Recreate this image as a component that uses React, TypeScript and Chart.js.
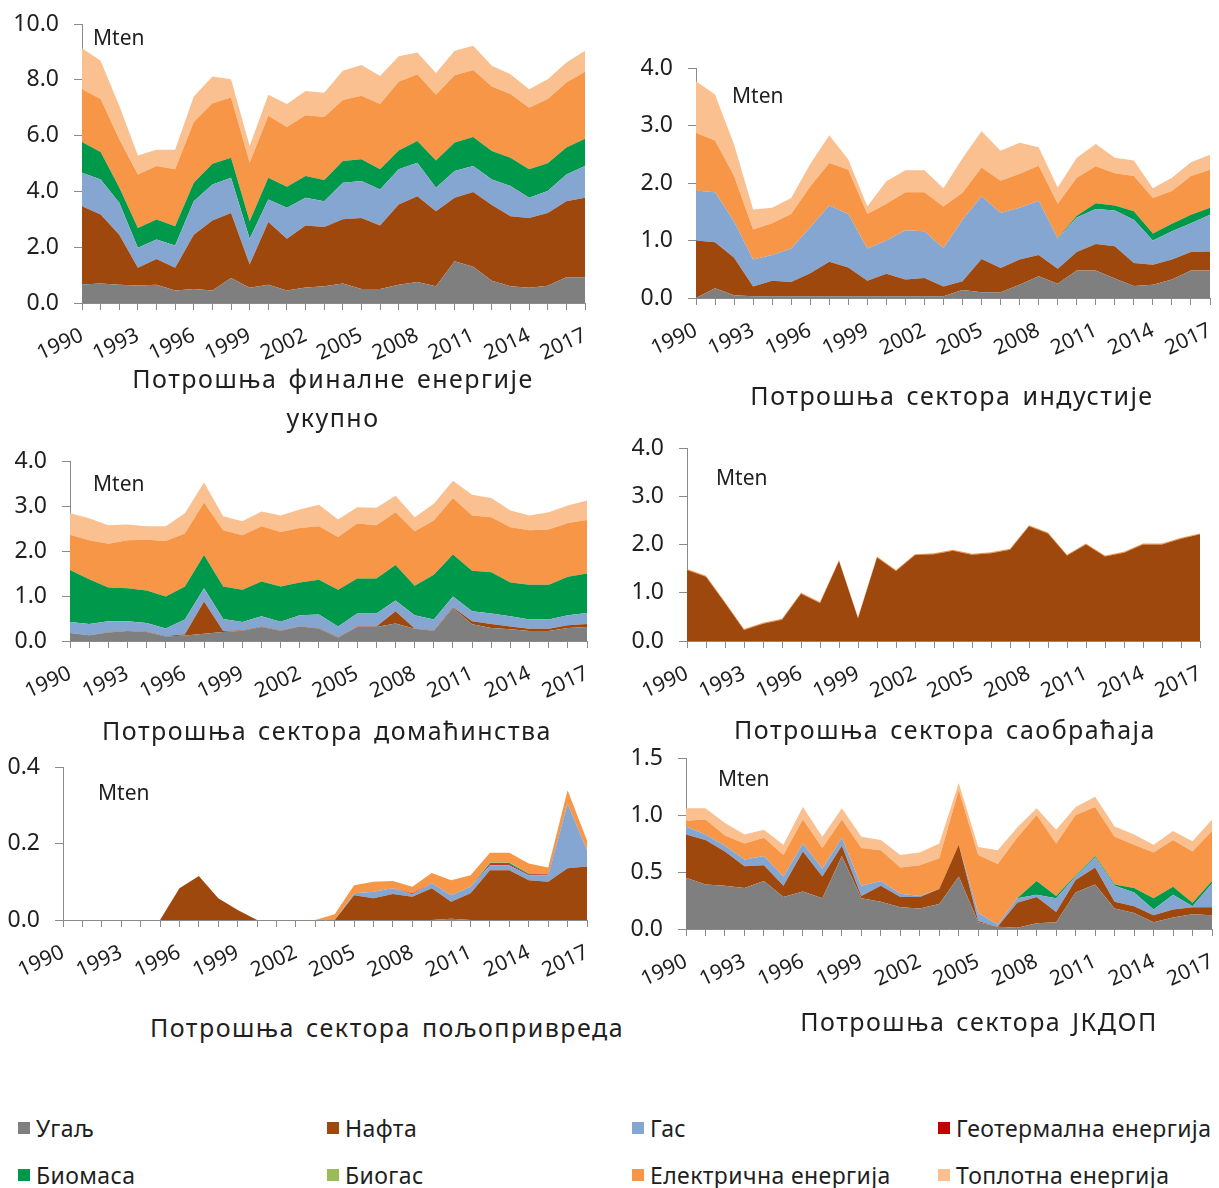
import React, { useEffect, useRef } from 'react';
import { Chart, registerables } from 'chart.js';
Chart.register(...registerables);

// ---------- data ----------
const YEARS = ['1990','1991','1992','1993','1994','1995','1996','1997','1998','1999','2000','2001','2002','2003','2004','2005','2006','2007','2008','2009','2010','2011','2012','2013','2014','2015','2016','2017'];
const YEAR_TICKS = ['1990','1993','1996','1999','2002','2005','2008','2011','2014','2017'];
const SERIES_NAMES = ['Угаљ','Нафта','Гас','Геотермална енергија','Биомаса','Биогас','Електрична енергија','Топлотна енергија'];
const SERIES_COLORS = ['#7F7F7F','#9E480E','#86A6D2','#C00000','#00984A','#9BBB59','#F79646','#FAC090'];

// Потрошња финалне енергије укупно
const totalCoal = [0.66,0.70,0.65,0.63,0.65,0.45,0.50,0.45,0.90,0.55,0.65,0.45,0.56,0.60,0.70,0.50,0.50,0.65,0.75,0.60,1.50,1.30,0.80,0.60,0.55,0.62,0.92,0.92];
const totalOil = [2.81,2.47,1.80,0.63,0.93,0.81,1.95,2.51,2.33,0.83,2.25,1.85,2.22,2.12,2.30,2.55,2.28,2.88,3.08,2.69,2.27,2.68,2.71,2.51,2.50,2.61,2.73,2.85];
const totalGas = [1.20,1.26,1.14,0.72,0.70,0.80,1.20,1.29,1.26,0.92,0.81,1.11,0.99,0.93,1.31,1.32,1.29,1.26,1.20,0.84,0.96,0.93,0.92,1.08,0.72,0.78,0.96,1.14];
const totalBio = [1.10,0.98,0.55,0.71,0.71,0.69,0.66,0.74,0.72,0.63,0.78,0.76,0.78,0.76,0.78,0.78,0.72,0.68,0.78,0.98,1.02,1.04,1.02,1.02,1.02,1.00,0.96,0.98];
const totalElec = [1.89,1.90,1.73,1.92,1.92,2.04,2.18,2.17,2.16,2.10,2.22,2.14,2.18,2.26,2.19,2.28,2.34,2.46,2.39,2.35,2.41,2.40,2.31,2.28,2.21,2.30,2.33,2.40];
const totalHeat = [1.47,1.37,1.20,0.68,0.58,0.70,0.91,0.96,0.65,0.60,0.75,0.82,0.87,0.87,1.04,1.10,1.01,0.91,0.78,0.78,0.88,0.87,0.74,0.71,0.66,0.71,0.72,0.75];

// Потрошња сектора индустије
const indCoal = [0,0.17,0.05,0.03,0.03,0.03,0.03,0.03,0.03,0.03,0.03,0.03,0.03,0.03,0.14,0.10,0.10,0.23,0.38,0.25,0.48,0.48,0.34,0.21,0.23,0.32,0.48,0.48];
const indOil = [1.00,0.80,0.65,0.17,0.27,0.25,0.40,0.60,0.50,0.27,0.39,0.29,0.32,0.17,0.15,0.58,0.42,0.44,0.37,0.26,0.32,0.46,0.56,0.40,0.35,0.35,0.32,0.33];
const indGas = [0.87,0.87,0.63,0.47,0.45,0.58,0.80,0.98,0.93,0.56,0.58,0.86,0.81,0.67,1.07,1.09,0.96,0.90,0.94,0.52,0.60,0.61,0.62,0.75,0.42,0.49,0.50,0.64];
const indBio = [0,0,0,0,0,0,0,0,0,0,0,0,0,0,0,0,0,0,0,0.01,0.03,0.10,0.09,0.15,0.12,0.13,0.15,0.12];
const indElec = [1.00,0.90,0.79,0.52,0.55,0.60,0.71,0.74,0.77,0.60,0.64,0.66,0.68,0.72,0.47,0.50,0.56,0.59,0.61,0.60,0.66,0.64,0.56,0.61,0.62,0.57,0.67,0.66];
const indHeat = [0.90,0.80,0.55,0.35,0.27,0.28,0.39,0.48,0.18,0.13,0.39,0.38,0.38,0.32,0.60,0.63,0.52,0.54,0.32,0.28,0.35,0.39,0.27,0.27,0.17,0.23,0.24,0.26];

// Потрошња сектора домаћинства
const hhCoal = [0.18,0.13,0.19,0.22,0.20,0.10,0.12,0.16,0.20,0.23,0.31,0.23,0.32,0.28,0.08,0.31,0.31,0.39,0.27,0.23,0.73,0.37,0.29,0.26,0.22,0.22,0.29,0.31];
const hhOil = [0,0,0.01,0.01,0.01,0.01,0.03,0.72,0.02,0.01,0.01,0.01,0.01,0.01,0.01,0.01,0.01,0.27,0.01,0.01,0.02,0.07,0.09,0.06,0.05,0.05,0.06,0.07];
const hhGas = [0.24,0.25,0.24,0.21,0.19,0.17,0.33,0.29,0.27,0.18,0.23,0.19,0.24,0.30,0.23,0.29,0.29,0.24,0.29,0.24,0.24,0.22,0.23,0.23,0.21,0.21,0.22,0.24];
const hhBio = [1.16,0.99,0.75,0.73,0.72,0.71,0.73,0.74,0.72,0.72,0.77,0.78,0.73,0.77,0.82,0.78,0.78,0.79,0.66,0.99,0.93,0.90,0.92,0.75,0.77,0.77,0.86,0.88];
const hhElec = [0.78,0.87,0.97,1.07,1.13,1.23,1.18,1.17,1.25,1.21,1.23,1.21,1.21,1.19,1.17,1.22,1.18,1.17,1.21,1.21,1.26,1.23,1.22,1.23,1.21,1.23,1.19,1.19];
const hhHeat = [0.48,0.49,0.41,0.35,0.30,0.33,0.45,0.44,0.31,0.31,0.33,0.37,0.41,0.48,0.39,0.36,0.39,0.37,0.31,0.37,0.38,0.46,0.43,0.37,0.33,0.38,0.39,0.43];

// Потрошња сектора саобраћаја
const trOil = [1.47,1.33,0.79,0.23,0.36,0.44,0.98,0.79,1.66,0.47,1.73,1.45,1.78,1.80,1.87,1.79,1.82,1.89,2.38,2.23,1.77,2.00,1.75,1.83,2.00,2.00,2.12,2.21];
const trElec = [0.02,0.02,0.02,0.02,0.02,0.02,0.02,0.02,0.02,0.02,0.02,0.02,0.02,0.02,0.02,0.02,0.02,0.02,0.02,0.02,0.02,0.02,0.02,0.02,0.02,0.02,0.02,0.02];

// Потрошња сектора пољопривреда
const agCoal = [0,0,0,0,0,0,0,0,0,0,0,0,0,0,0,0,0,0,0,0,0.003,0,0,0,0,0,0,0];
const agOil = [0,0,0,0,0,0,0.083,0.115,0.057,0.026,0,0,0,0,0,0.065,0.057,0.068,0.061,0.083,0.045,0.070,0.130,0.130,0.104,0.100,0.135,0.140];
const agGas = [0,0,0,0,0,0,0,0,0,0,0,0,0,0,0,0.005,0.017,0.015,0.006,0.013,0.017,0.017,0.013,0.013,0.013,0.017,0.169,0.043];
const agGeo = [0,0,0,0,0,0,0,0,0,0,0,0,0,0,0,0,0,0,0.002,0,0,0,0.003,0.003,0.002,0.002,0,0];
const agBio = [0,0,0,0,0,0,0,0,0,0,0,0,0,0,0,0,0,0,0,0,0,0,0.003,0.003,0.002,0,0,0];
const agBiogas = [0,0,0,0,0,0,0,0,0,0,0,0,0,0,0,0,0,0,0,0,0,0,0.002,0.002,0,0,0,0];
const agElec = [0,0,0,0,0,0,0,0,0,0,0,0,0,0,0.015,0.021,0.026,0.019,0.018,0.027,0.039,0.030,0.025,0.025,0.027,0.018,0.035,0.025];

// Потрошња сектора ЈКДОП
const jkCoal = [0.45,0.39,0.38,0.36,0.42,0.28,0.33,0.27,0.64,0.27,0.24,0.19,0.18,0.22,0.46,0.06,0.02,0.01,0.05,0.06,0.32,0.39,0.18,0.14,0.06,0.10,0.13,0.12];
const jkOil = [0.38,0.39,0.30,0.19,0.14,0.10,0.35,0.19,0.09,0.02,0.14,0.09,0.10,0.13,0.28,0.01,0,0.22,0.23,0.09,0.11,0.15,0.06,0.06,0.06,0.07,0.06,0.07];
const jkGas = [0.07,0.05,0.05,0.06,0.08,0.08,0.07,0.07,0.07,0.09,0.04,0.03,0.01,0,0,0.07,0.02,0.04,0.02,0.12,0.03,0.09,0.14,0.12,0.05,0.13,0.01,0.21];
const jkBio = [0,0,0,0,0,0,0,0,0,0,0,0,0,0,0,0,0,0,0.12,0.02,0.01,0.01,0.01,0.04,0.10,0.07,0.03,0.02];
const jkElec = [0.05,0.13,0.09,0.14,0.16,0.19,0.21,0.18,0.16,0.33,0.27,0.23,0.27,0.27,0.48,0.51,0.53,0.53,0.58,0.46,0.53,0.43,0.42,0.38,0.40,0.41,0.45,0.44];
const jkHeat = [0.11,0.10,0.11,0.08,0.07,0.09,0.11,0.10,0.10,0.10,0.09,0.11,0.11,0.13,0.06,0.07,0.12,0.09,0.06,0.12,0.07,0.09,0.09,0.09,0.07,0.08,0.09,0.10];

// ---------- layout ----------
type Panel = {
  series: [number, number[]][];
  L: number; R: number; T: number; B: number;
  yMax: number; yStep: number;
  unit: [number, number];
  title: string[]; tx: number; ty: number[];
};

const PANELS: Panel[] = [
  { series: [[0,totalCoal],[1,totalOil],[2,totalGas],[4,totalBio],[6,totalElec],[7,totalHeat]],
    L: 82, R: 585, T: 24, B: 303, yMax: 10, yStep: 2, unit: [93, 37],
    title: ['Потрошња финалне енергије', 'укупно'], tx: 333, ty: [378, 417] },
  { series: [[0,indCoal],[1,indOil],[2,indGas],[4,indBio],[6,indElec],[7,indHeat]],
    L: 696, R: 1210, T: 68, B: 298, yMax: 4, yStep: 1, unit: [732, 95],
    title: ['Потрошња сектора индустије'], tx: 952, ty: [395] },
  { series: [[0,hhCoal],[1,hhOil],[2,hhGas],[4,hhBio],[6,hhElec],[7,hhHeat]],
    L: 70, R: 587, T: 461, B: 641, yMax: 4, yStep: 1, unit: [93, 483],
    title: ['Потрошња сектора домаћинства'], tx: 327, ty: [730] },
  { series: [[1,trOil],[6,trElec]],
    L: 687, R: 1200, T: 448, B: 641, yMax: 4, yStep: 1, unit: [716, 477],
    title: ['Потрошња сектора саобраћаја'], tx: 945, ty: [729] },
  { series: [[0,agCoal],[1,agOil],[2,agGas],[3,agGeo],[4,agBio],[5,agBiogas],[6,agElec]],
    L: 63, R: 587, T: 767, B: 920, yMax: 0.4, yStep: 0.2, unit: [98, 792],
    title: ['Потрошња сектора пољопривреда'], tx: 387, ty: [1027] },
  { series: [[0,jkCoal],[1,jkOil],[2,jkGas],[4,jkBio],[6,jkElec],[7,jkHeat]],
    L: 686, R: 1212, T: 758, B: 929, yMax: 1.5, yStep: 0.5, unit: [718, 778],
    title: ['Потрошња сектора ЈКДОП'], tx: 979, ty: [1021] },
];

const FONT = "'Noto Sans', 'DejaVu Sans', sans-serif";
const TEXT = '#1f1f1f';
const AXIS = '#8a8a8a';
const Y_AXIS_W = 95;
const PAD_TOP = 44;
const PAD_RIGHT = 44;
const X_AXIS_H = 75;

function AreaPanel({ p }: { p: Panel }) {
  const ref = useRef<HTMLCanvasElement>(null);
  const cw = (p.R - p.L) + Y_AXIS_W + PAD_RIGHT;
  const ch = (p.B - p.T) + PAD_TOP + X_AXIS_H;
  useEffect(() => {
    if (!ref.current) return;
    const chart = new Chart(ref.current, {
      type: 'line',
      data: {
        labels: YEARS,
        datasets: p.series.map(([si, vals], k) => ({
          label: SERIES_NAMES[si],
          data: vals,
          backgroundColor: SERIES_COLORS[si],
          borderColor: SERIES_COLORS[si],
          borderWidth: 0,
          pointRadius: 0,
          tension: 0,
          fill: k === 0 ? 'origin' : '-1',
        })),
      },
      options: {
        responsive: false,
        animation: false,
        devicePixelRatio: 1,
        layout: { padding: { top: PAD_TOP, right: PAD_RIGHT, left: 0, bottom: 0 } },
        plugins: { legend: { display: false }, tooltip: { enabled: false } },
        scales: {
          x: {
            offset: false,
            afterFit: (s: any) => { s.height = X_AXIS_H; },
            grid: { display: true, drawOnChartArea: false, drawTicks: true, tickLength: 7, color: AXIS, lineWidth: 1 },
            border: { display: true, color: AXIS, width: 1 },
            ticks: {
              autoSkip: false, minRotation: 25, maxRotation: 25, padding: 13,
              color: TEXT, font: { family: FONT, size: 21 },
              callback: (_v: any, i: number) => (YEAR_TICKS.includes(YEARS[i]) ? YEARS[i] : ''),
            },
          },
          y: {
            stacked: true,
            min: 0, max: p.yMax,
            afterFit: (s: any) => { s.width = Y_AXIS_W; },
            grid: { display: true, drawOnChartArea: false, drawTicks: true, tickLength: 8, color: AXIS, lineWidth: 1 },
            border: { display: true, color: AXIS, width: 1 },
            ticks: {
              stepSize: p.yStep, padding: 15, color: TEXT, font: { family: FONT, size: 23 },
              callback: (v: any) => Number(v).toFixed(1),
            },
          },
        },
      },
    });
    return () => chart.destroy();
  }, []);
  return (
    <canvas ref={ref} width={cw} height={ch}
      style={{ position: 'absolute', left: p.L - Y_AXIS_W, top: p.T - PAD_TOP, width: cw, height: ch }} />
  );
}

export default function App() {
  const legendCols = [18, 327, 632, 938];
  const legendRows = [1128, 1175];
  return (
    <div style={{ position: 'absolute', left: 0, top: 0, width: 1219, height: 1188, background: '#fff', overflow: 'hidden', fontFamily: FONT, color: TEXT }}>
      {PANELS.map((p, i) => <AreaPanel key={i} p={p} />)}
      {PANELS.map((p, i) => (
        <div key={'u' + i} style={{ position: 'absolute', left: p.unit[0], top: p.unit[1] - 14, fontSize: 21, lineHeight: '28px', whiteSpace: 'nowrap' }}>Mten</div>
      ))}
      {PANELS.map((p, i) => p.title.map((t, j) => (
        <div key={'t' + i + '_' + j} style={{ position: 'absolute', left: p.tx - 300, width: 600, top: p.ty[j] - 17, textAlign: 'center', fontSize: 25, lineHeight: '34px', letterSpacing: 1.5, wordSpacing: 3, whiteSpace: 'nowrap' }}>{t}</div>
      )))}
      {SERIES_NAMES.map((n, i) => (
        <div key={'l' + i} style={{ position: 'absolute', left: legendCols[i % 4], top: legendRows[Math.floor(i / 4)] - 16, height: 32, display: 'flex', alignItems: 'center', whiteSpace: 'nowrap', fontSize: 23, letterSpacing: 0.4 }}>
          <span style={{ display: 'inline-block', width: 12, height: 12, background: SERIES_COLORS[i], marginRight: 6 }} />
          <span>{n}</span>
        </div>
      ))}
    </div>
  );
}
